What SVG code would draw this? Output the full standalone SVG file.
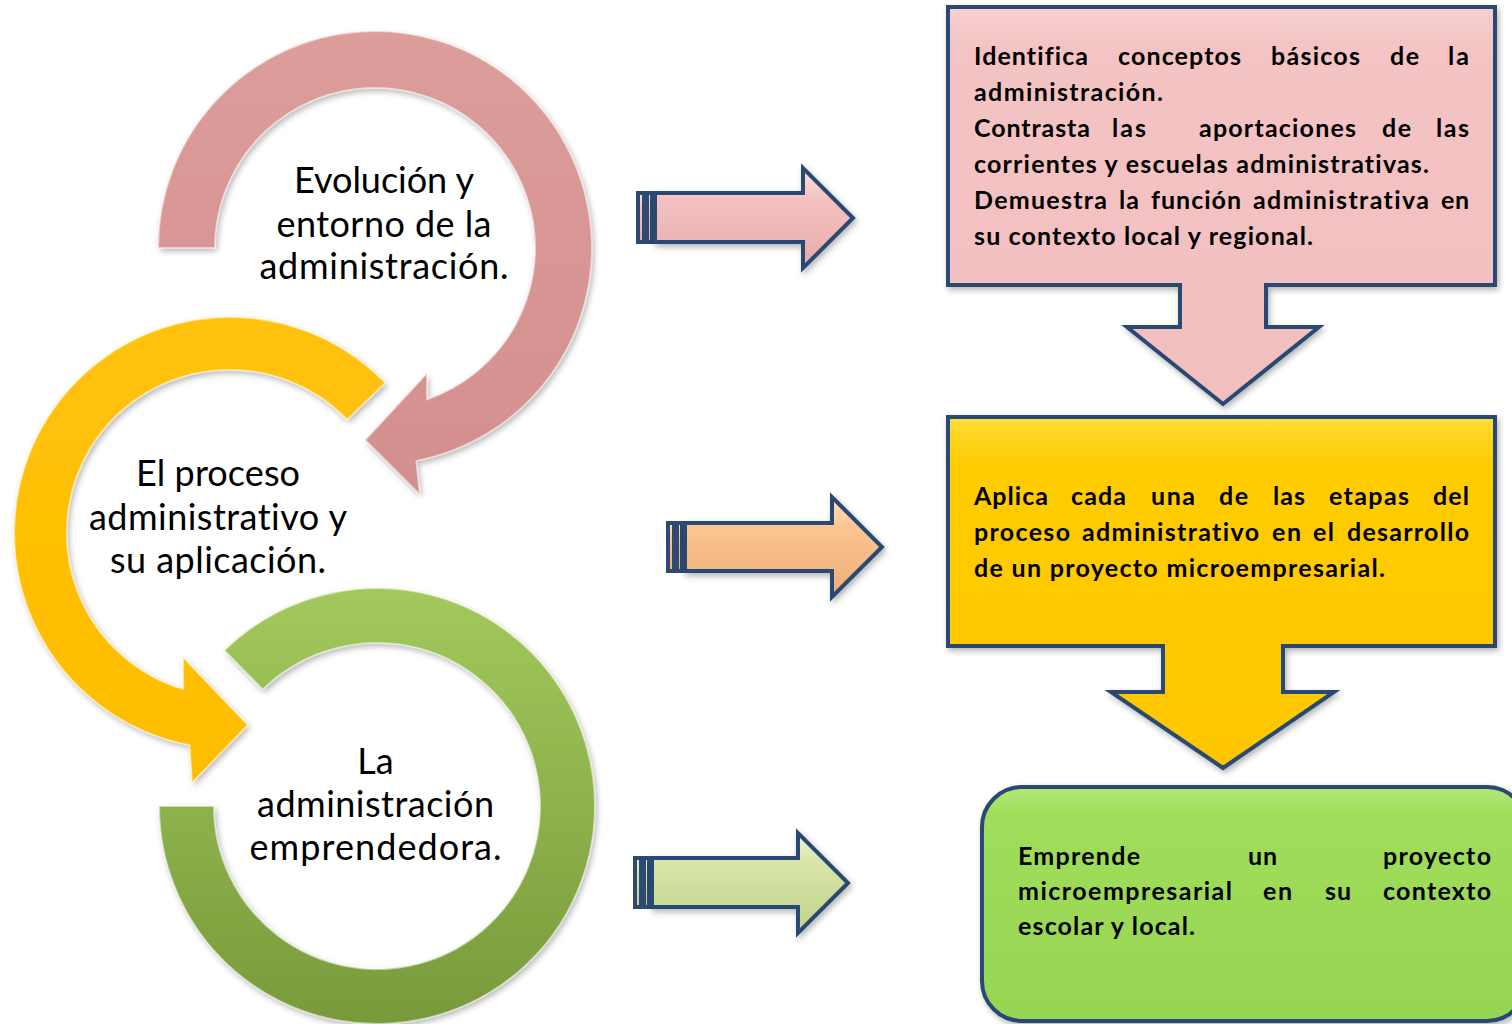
<svg xmlns="http://www.w3.org/2000/svg" width="1512" height="1024" viewBox="0 0 1512 1024">
<style>
.ct{font-family:Lato,"Liberation Sans",sans-serif;font-size:36px;fill:#000;text-anchor:middle;font-variant-ligatures:none}
.bt{font-family:Lato,"Liberation Sans",sans-serif;font-size:25px;font-weight:bold;fill:#000;font-variant-ligatures:none}
.edge{fill:none;stroke:#ffffff;stroke-opacity:0.55;stroke-width:2}
.blue{stroke:#2c4a72;stroke-width:4;stroke-linejoin:miter}
</style>
<defs>
<filter id="sh" x="-10%" y="-10%" width="130%" height="130%">
<feGaussianBlur in="SourceAlpha" stdDeviation="3"/>
<feOffset dx="2" dy="3" result="o"/>
<feComponentTransfer><feFuncA type="linear" slope="0.3"/></feComponentTransfer>
<feMerge><feMergeNode/><feMergeNode in="SourceGraphic"/></feMerge>
</filter>
<linearGradient id="gPinkArc" x1="0" y1="0" x2="0" y2="1"><stop offset="0" stop-color="#dc9d9b"/><stop offset="1" stop-color="#d38f8d"/></linearGradient>
<linearGradient id="gYelArc" x1="0" y1="0" x2="0" y2="1"><stop offset="0" stop-color="#ffc20a"/><stop offset="1" stop-color="#ffbd00"/></linearGradient>
<linearGradient id="gGrnArc" x1="0" y1="0" x2="0" y2="1"><stop offset="0" stop-color="#a3c95c"/><stop offset="1" stop-color="#789a3b"/></linearGradient>
<linearGradient id="gA1" x1="0" y1="0" x2="0" y2="1"><stop offset="0" stop-color="#fbe0e0"/><stop offset="0.3" stop-color="#f4c2c1"/><stop offset="1" stop-color="#e6aaaa"/></linearGradient>
<linearGradient id="gA2" x1="0" y1="0" x2="0" y2="1"><stop offset="0" stop-color="#fde0c2"/><stop offset="0.3" stop-color="#fbc592"/><stop offset="1" stop-color="#eeac74"/></linearGradient>
<linearGradient id="gA3" x1="0" y1="0" x2="0" y2="1"><stop offset="0" stop-color="#eef5d4"/><stop offset="0.3" stop-color="#d8e5a8"/><stop offset="1" stop-color="#c0d288"/></linearGradient>
<linearGradient id="gB1" x1="0" y1="0" x2="0" y2="1"><stop offset="0" stop-color="#f7d0d0"/><stop offset="0.1" stop-color="#f4c3c3"/><stop offset="1" stop-color="#f2bfbf"/></linearGradient>
<linearGradient id="gB2" x1="0" y1="0" x2="0" y2="1"><stop offset="0" stop-color="#ffdc3a"/><stop offset="0.12" stop-color="#ffcd06"/><stop offset="1" stop-color="#fec600"/></linearGradient>
<linearGradient id="gB3" x1="0" y1="0" x2="0" y2="1"><stop offset="0" stop-color="#b4e878"/><stop offset="0.12" stop-color="#a0dd5b"/><stop offset="1" stop-color="#96d552"/></linearGradient>
</defs>
<rect width="1512" height="1024" fill="#ffffff"/>

<g id="node-emprendedora">
<path filter="url(#sh)" fill="url(#gGrnArc)" d="M159,806 A218,218 0 1 0 224.2,650.5 L262.8,689.7 A163,163 0 1 1 214,806 Z"/>
<path class="edge" d="M159,806 A218,218 0 1 0 224.2,650.5 L262.8,689.7 A163,163 0 1 1 214,806 Z"/>
<text class="ct" x="375.5" y="774">La</text>
<text class="ct" x="375.5" y="817" textLength="237" lengthAdjust="spacing">administración</text>
<text class="ct" x="375.5" y="860" textLength="252" lengthAdjust="spacing">emprendedora.</text>
</g>

<g id="node-proceso">
<path filter="url(#sh)" fill="url(#gYelArc)" d="M385.4,382.9 A216,216 0 1 0 189.5,745.2 L192,783 L248,725 L183,657 L183.2,689.1 A163,163 0 1 1 347.2,419.8 Z"/>
<path class="edge" d="M385.4,382.9 A216,216 0 1 0 189.5,745.2 L192,783 L248,725 L183,657 L183.2,689.1 A163,163 0 1 1 347.2,419.8 Z"/>
<text class="ct" x="218" y="486" textLength="164" lengthAdjust="spacing">El proceso</text>
<text class="ct" x="218" y="530" textLength="258" lengthAdjust="spacing">administrativo y</text>
<text class="ct" x="218" y="573" textLength="216" lengthAdjust="spacing">su aplicación.</text>
</g>

<g id="node-evolucion">
<path filter="url(#sh)" fill="url(#gPinkArc)" d="M158,248 A217,217 0 1 1 416.4,461 L420,495 L365,440 L427,373 L427.1,399.3 A160,160 0 1 0 215,248 Z"/>
<path class="edge" d="M158,248 A217,217 0 1 1 416.4,461 L420,495 L365,440 L427,373 L427.1,399.3 A160,160 0 1 0 215,248 Z"/>
<text class="ct" x="384" y="193" textLength="180" lengthAdjust="spacing">Evolución y</text>
<text class="ct" x="384" y="237" textLength="215" lengthAdjust="spacing">entorno de la</text>
<text class="ct" x="384" y="279" textLength="249" lengthAdjust="spacing">administración.</text>
</g>

<g id="connectors">
<g id="arrow-1">
<rect class="blue" x="638" y="193" width="6" height="49" fill="url(#gA1)"/>
<rect class="blue" x="647" y="193" width="5" height="49" fill="url(#gA1)"/>
<path class="blue" filter="url(#sh)" fill="url(#gA1)" d="M655,193 H803 V168 L853,218 L803,268 V242 H655 Z"/>
</g>
<g id="arrow-2">
<rect class="blue" x="668" y="523" width="6" height="48" fill="url(#gA2)"/>
<rect class="blue" x="677" y="523" width="5" height="48" fill="url(#gA2)"/>
<path class="blue" filter="url(#sh)" fill="url(#gA2)" d="M685,523 H832 V497 L882,547 L832,597 V571 H685 Z"/>
</g>
<g id="arrow-3">
<rect class="blue" x="635" y="858" width="6" height="49" fill="url(#gA3)"/>
<rect class="blue" x="644" y="858" width="5" height="49" fill="url(#gA3)"/>
<path class="blue" filter="url(#sh)" fill="url(#gA3)" d="M652,858 H798 V833 L848,883 L798,933 V907 H652 Z"/>
</g>
</g>

<g id="node-box-1">
<path class="blue" filter="url(#sh)" fill="url(#gB1)" d="M948,7 H1495 V285 H1266 V327 H1319 L1223,404 L1127,327 H1180 V285 H948 Z"/>
<text class="bt" y="65"><tspan x="974" textLength="114">Identifica</tspan><tspan x="1118" textLength="123">conceptos</tspan><tspan x="1271" textLength="89">básicos</tspan><tspan x="1390" textLength="29">de</tspan><tspan x="1448" textLength="21">la</tspan></text>
<text class="bt" x="974" y="101" textLength="189">administración.</text>
<text class="bt" y="137"><tspan x="974" textLength="116">Contrasta</tspan><tspan x="1112" textLength="34">las</tspan><tspan x="1199" textLength="157">aportaciones</tspan><tspan x="1382" textLength="29">de</tspan><tspan x="1436" textLength="33">las</tspan></text>
<text class="bt" x="974" y="173" textLength="455">corrientes y escuelas administrativas.</text>
<text class="bt" y="209"><tspan x="974" textLength="133">Demuestra</tspan><tspan x="1119" textLength="20">la</tspan><tspan x="1151" textLength="90">función</tspan><tspan x="1253" textLength="176">administrativa</tspan><tspan x="1441" textLength="28">en</tspan></text>
<text class="bt" x="974" y="245" textLength="339">su contexto local y regional.</text>
</g>

<g id="node-box-2">
<path class="blue" filter="url(#sh)" fill="url(#gB2)" d="M948,417 H1495 V646 H1283 V692 H1334 L1223,768 L1111,692 H1163 V646 H948 Z"/>
<text class="bt" y="505"><tspan x="974" textLength="74">Aplica</tspan><tspan x="1071" textLength="55">cada</tspan><tspan x="1151" textLength="44">una</tspan><tspan x="1219" textLength="29">de</tspan><tspan x="1273" textLength="32">las</tspan><tspan x="1329" textLength="80">etapas</tspan><tspan x="1433" textLength="36">del</tspan></text>
<text class="bt" y="541"><tspan x="974" textLength="96">proceso</tspan><tspan x="1082" textLength="177">administrativo</tspan><tspan x="1272" textLength="29">en</tspan><tspan x="1313" textLength="21">el</tspan><tspan x="1347" textLength="122">desarrollo</tspan></text>
<text class="bt" x="974" y="577" textLength="411">de un proyecto microempresarial.</text>
</g>

<g id="node-box-3">
<rect class="blue" filter="url(#sh)" fill="url(#gB3)" x="982" y="787" width="545" height="234" rx="40" ry="40"/>
<text class="bt" y="865"><tspan x="1018" textLength="122">Emprende</tspan><tspan x="1248" textLength="29">un</tspan><tspan x="1383" textLength="108">proyecto</tspan></text>
<text class="bt" y="900"><tspan x="1018" textLength="214">microempresarial</tspan><tspan x="1263" textLength="29">en</tspan><tspan x="1325" textLength="26">su</tspan><tspan x="1383" textLength="108">contexto</tspan></text>
<text class="bt" x="1018" y="935" textLength="177">escolar y local.</text>
</g>
</svg>
